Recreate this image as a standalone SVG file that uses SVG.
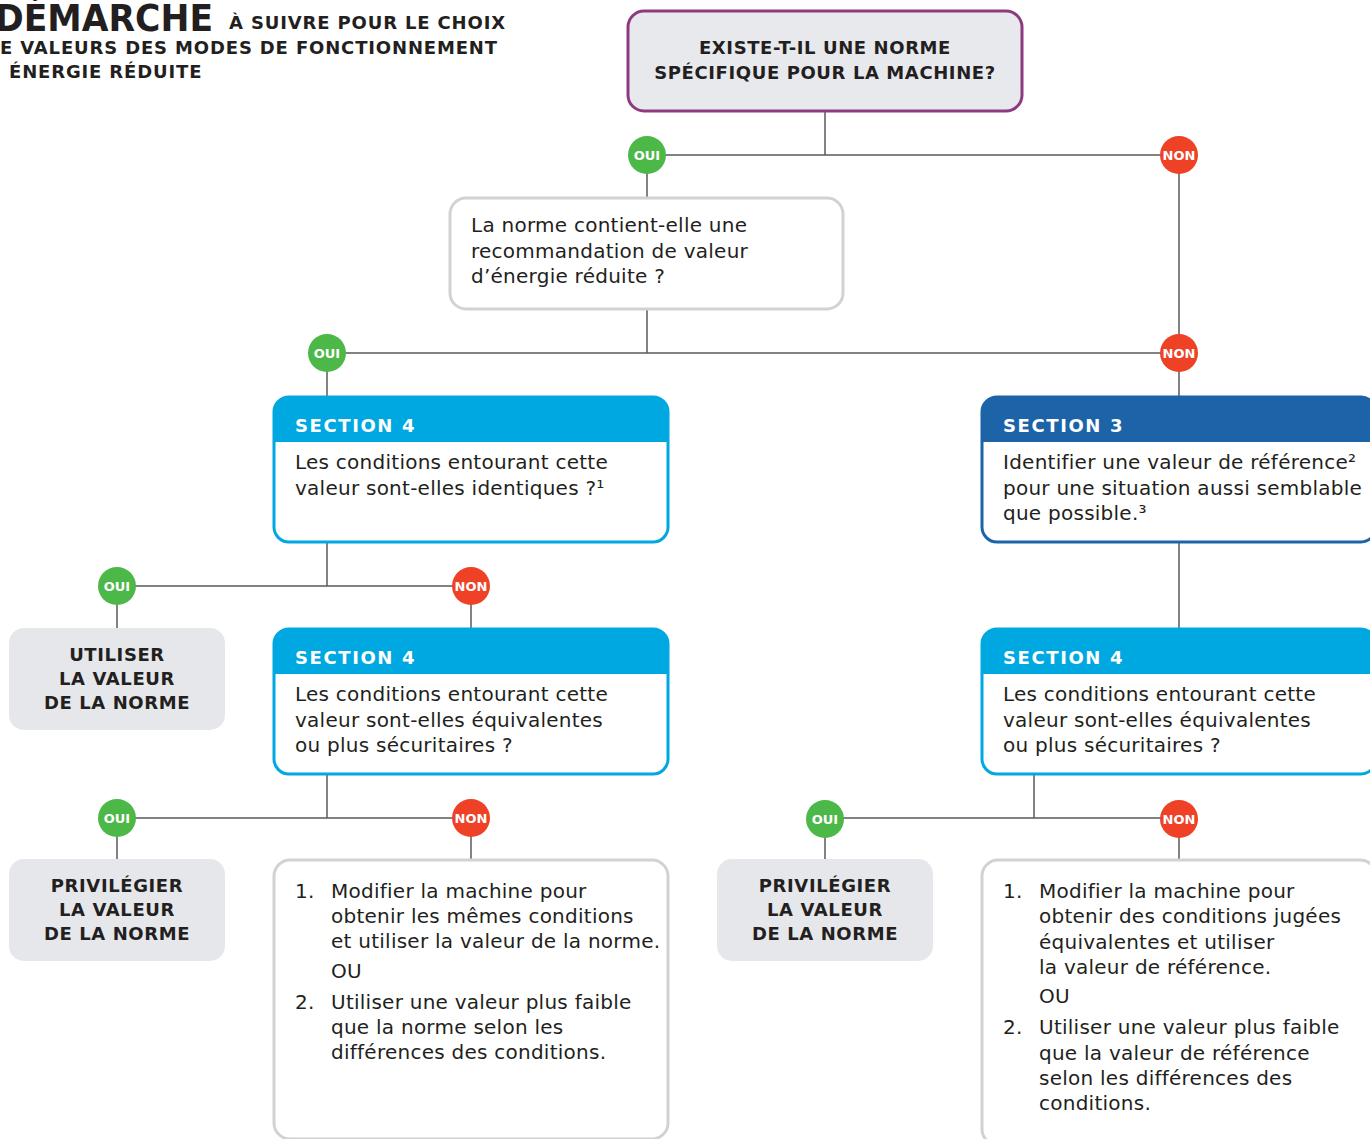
<svg xmlns="http://www.w3.org/2000/svg" width="1370" height="1139" viewBox="0 0 1370 1139">
<style>
.t{font-family:"DejaVu Sans","Liberation Sans",sans-serif;fill:#231f20}
.b{font-family:"DejaVu Sans","Liberation Sans",sans-serif;font-weight:bold;fill:#231f20}
.body{font-size:20px;letter-spacing:0.25px}
.hd{font-size:18px;letter-spacing:0.6px}
.ttl{font-size:18px;letter-spacing:0.85px}
.sec{font-family:"DejaVu Sans","Liberation Sans",sans-serif;font-weight:bold;font-size:18px;letter-spacing:1.6px;fill:#fff}
.bt{font-family:"DejaVu Sans","Liberation Sans",sans-serif;font-weight:bold;font-size:13px;fill:#fff;text-anchor:middle}
.con{stroke:#58595b;stroke-width:1.5;fill:none}
.gray{fill:#e6e7ea}
.oui{fill:#4cb847}
.non{fill:#ee4125}
.c4{fill:#00a8e1}
.c3{fill:#1d63a8}
</style>
<g id="title">
<text class="b" x="-5" y="31" font-size="37" textLength="218" lengthAdjust="spacingAndGlyphs">DÉMARCHE</text>
<text class="b ttl" x="229" y="28.5">À SUIVRE POUR LE CHOIX</text>
<text class="b ttl" x="0" y="53.5">E VALEURS DES MODES DE FONCTIONNEMENT</text>
<text class="b ttl" x="9" y="77.5">ÉNERGIE RÉDUITE</text>
</g>
<g id="connectors">
<path class="con" d="M825,111V155 M647,155H1179 M647,155V198 M1179,155V353 M647,309V353 M327,353H1179 M327,353V397 M1179,353V397 M327,542V586 M117,586H471 M117,586V628 M471,586V629 M1179,542V629 M327,774V818 M117,818H471 M117,818V859 M471,818V860 M1034,774V818 M825,818H1179 M825,818V859 M1179,818V860"/>
</g>
<g id="q1">
<rect x="628" y="11" width="394" height="100" rx="16" fill="#e8e9ed" stroke="#8e3a80" stroke-width="3"/>
<text class="b hd" x="825" y="53.5" text-anchor="middle">EXISTE-T-IL UNE NORME</text>
<text class="b hd" x="825" y="78.5" text-anchor="middle">SPÉCIFIQUE POUR LA MACHINE?</text>
</g>
<g id="q2">
<rect x="450" y="198" width="393" height="111" rx="16" fill="#fff" stroke="#d1d2d4" stroke-width="3"/>
<text class="t body" x="471" y="232">La norme contient-elle une</text>
<text class="t body" x="471" y="258">recommandation de valeur</text>
<text class="t body" x="471" y="283">d’énergie réduite ?</text>
</g>
<g id="s4a">
<path class="c4" d="M274,442V412A15,15 0 0 1 289,397H653A15,15 0 0 1 668,412V442Z"/>
<rect x="274" y="397" width="394" height="145" rx="15" fill="none" stroke="#00a8e1" stroke-width="3"/>
<text class="sec" x="295" y="431.5">SECTION 4</text>
<text class="t body" x="295" y="469">Les conditions entourant cette</text>
<text class="t body" x="295" y="495">valeur sont-elles identiques ?¹</text>
</g>
<g id="s3">
<path class="c3" d="M982,442V412A15,15 0 0 1 997,397H1361A15,15 0 0 1 1376,412V442Z"/>
<rect x="982" y="397" width="394" height="145" rx="15" fill="none" stroke="#1d63a8" stroke-width="3"/>
<text class="sec" x="1003" y="431.5">SECTION 3</text>
<text class="t body" x="1003" y="469">Identifier une valeur de référence²</text>
<text class="t body" x="1003" y="495">pour une situation aussi semblable</text>
<text class="t body" x="1003" y="520">que possible.³</text>
</g>
<g id="use1">
<rect class="gray" x="9" y="628" width="216" height="102" rx="15"/>
<text class="b hd" x="117" y="661" text-anchor="middle">UTILISER</text>
<text class="b hd" x="117" y="685" text-anchor="middle">LA VALEUR</text>
<text class="b hd" x="117" y="709" text-anchor="middle">DE LA NORME</text>
</g>
<g id="s4b">
<path class="c4" d="M274,674V644A15,15 0 0 1 289,629H653A15,15 0 0 1 668,644V674Z"/>
<rect x="274" y="629" width="394" height="145" rx="15" fill="none" stroke="#00a8e1" stroke-width="3"/>
<text class="sec" x="295" y="663.5">SECTION 4</text>
<text class="t body" x="295" y="701">Les conditions entourant cette</text>
<text class="t body" x="295" y="727">valeur sont-elles équivalentes</text>
<text class="t body" x="295" y="752">ou plus sécuritaires ?</text>
</g>
<g id="s4c">
<path class="c4" d="M982,674V644A15,15 0 0 1 997,629H1361A15,15 0 0 1 1376,644V674Z"/>
<rect x="982" y="629" width="394" height="145" rx="15" fill="none" stroke="#00a8e1" stroke-width="3"/>
<text class="sec" x="1003" y="663.5">SECTION 4</text>
<text class="t body" x="1003" y="701">Les conditions entourant cette</text>
<text class="t body" x="1003" y="727">valeur sont-elles équivalentes</text>
<text class="t body" x="1003" y="752">ou plus sécuritaires ?</text>
</g>
<g id="priv1">
<rect class="gray" x="9" y="859" width="216" height="102" rx="15"/>
<text class="b hd" x="117" y="892" text-anchor="middle">PRIVILÉGIER</text>
<text class="b hd" x="117" y="916" text-anchor="middle">LA VALEUR</text>
<text class="b hd" x="117" y="940" text-anchor="middle">DE LA NORME</text>
</g>
<g id="list1">
<rect x="274" y="860" width="394" height="279" rx="16" fill="#fff" stroke="#d1d2d4" stroke-width="3"/>
<text class="t body" x="295" y="898">1.</text>
<text class="t body" x="331" y="898">Modifier la machine pour</text>
<text class="t body" x="331" y="923">obtenir les mêmes conditions</text>
<text class="t body" x="331" y="948">et utiliser la valeur de la norme.</text>
<text class="t body" x="331" y="978">OU</text>
<text class="t body" x="295" y="1009">2.</text>
<text class="t body" x="331" y="1009">Utiliser une valeur plus faible</text>
<text class="t body" x="331" y="1034">que la norme selon les</text>
<text class="t body" x="331" y="1059">différences des conditions.</text>
</g>
<g id="priv2">
<rect class="gray" x="717" y="859" width="216" height="102" rx="15"/>
<text class="b hd" x="825" y="892" text-anchor="middle">PRIVILÉGIER</text>
<text class="b hd" x="825" y="916" text-anchor="middle">LA VALEUR</text>
<text class="b hd" x="825" y="940" text-anchor="middle">DE LA NORME</text>
</g>
<g id="list2">
<rect x="982" y="860" width="394" height="285" rx="16" fill="#fff" stroke="#d1d2d4" stroke-width="3"/>
<text class="t body" x="1003" y="898">1.</text>
<text class="t body" x="1039" y="898">Modifier la machine pour</text>
<text class="t body" x="1039" y="923">obtenir des conditions jugées</text>
<text class="t body" x="1039" y="949">équivalentes et utiliser</text>
<text class="t body" x="1039" y="974">la valeur de référence.</text>
<text class="t body" x="1039" y="1003">OU</text>
<text class="t body" x="1003" y="1034">2.</text>
<text class="t body" x="1039" y="1034">Utiliser une valeur plus faible</text>
<text class="t body" x="1039" y="1060">que la valeur de référence</text>
<text class="t body" x="1039" y="1085">selon les différences des</text>
<text class="t body" x="1039" y="1110">conditions.</text>
</g>
<g id="badges">
<g id="b-oui1"><circle class="oui" cx="647" cy="155" r="19"/><text class="bt" x="647" y="159.5">OUI</text></g>
<g id="b-non1"><circle class="non" cx="1179" cy="155" r="19"/><text class="bt" x="1179" y="159.5">NON</text></g>
<g id="b-oui2"><circle class="oui" cx="327" cy="353" r="19"/><text class="bt" x="327" y="357.5">OUI</text></g>
<g id="b-non2"><circle class="non" cx="1179" cy="353" r="19"/><text class="bt" x="1179" y="357.5">NON</text></g>
<g id="b-oui3"><circle class="oui" cx="117" cy="586" r="19"/><text class="bt" x="117" y="590.5">OUI</text></g>
<g id="b-non3"><circle class="non" cx="471" cy="586" r="19"/><text class="bt" x="471" y="590.5">NON</text></g>
<g id="b-oui4"><circle class="oui" cx="117" cy="818" r="19"/><text class="bt" x="117" y="822.5">OUI</text></g>
<g id="b-non4"><circle class="non" cx="471" cy="818" r="19"/><text class="bt" x="471" y="822.5">NON</text></g>
<g id="b-oui5"><circle class="oui" cx="825" cy="819" r="19"/><text class="bt" x="825" y="823.5">OUI</text></g>
<g id="b-non5"><circle class="non" cx="1179" cy="819" r="19"/><text class="bt" x="1179" y="823.5">NON</text></g>
</g>
</svg>
